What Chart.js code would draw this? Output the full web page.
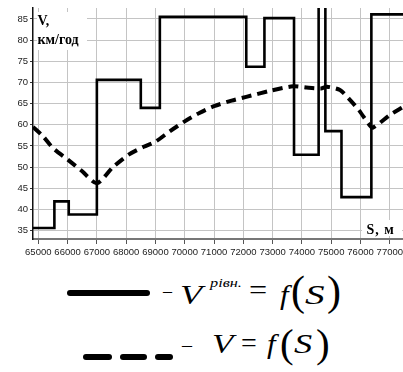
<!DOCTYPE html>
<html>
<head>
<meta charset="utf-8">
<script src="https://cdn.jsdelivr.net/npm/chart.js@4"></script>
<style>
  html, body { margin: 0; padding: 0; background: #fff; }
  #wrap { position: relative; width: 403px; height: 372px; overflow: hidden; background: #fff; }
  #c { position: absolute; left: 0; top: 0; }
  .t { position: absolute; font-family: 'Liberation Serif'; line-height: 1; white-space: nowrap; color: #000; transform-origin: 0 0; }
  .i { font-style: italic; }
  .bar { position: absolute; background: #000; border-radius: 3px; }
</style>
</head>
<body>
<div id="wrap">
  <canvas id="c" width="403" height="262"></canvas>

  <!-- legend line 1 -->
  <div class="bar" style="left:67px; top:290px; width:83px; height:6px;"></div>
  <div class="t" style="left:163px; top:282px; font-size:18px;">–</div>
  <div class="t i" style="left:180px; top:281px; font-size:28px; transform:scaleX(1.3);">V</div>
  <div class="t i" style="left:210px; top:276px; font-size:13px; transform:scaleX(1.25);">рівн.</div>
  <div class="t" style="left:249px; top:276px; font-size:28px; transform:scaleX(1.15);">=</div>
  <div class="t i" style="left:280px; top:281px; font-size:28px; transform:scaleX(1.1);">f</div>
  <div class="t" style="left:291px; top:270px; font-size:42px;">(</div>
  <div class="t i" style="left:305px; top:281px; font-size:28px; transform:scaleX(1.4);">S</div>
  <div class="t" style="left:327px; top:270px; font-size:42px;">)</div>

  <!-- legend line 2 -->
  <div class="bar" style="left:83px; top:354px; width:29px; height:6px;"></div>
  <div class="bar" style="left:120px; top:354px; width:27px; height:6px;"></div>
  <div class="bar" style="left:155px; top:354px; width:18px; height:6px;"></div>
  <div class="t" style="left:182px; top:335px; font-size:20px;">–</div>
  <div class="t i" style="left:212px; top:330px; font-size:28px; transform:scaleX(1.25);">V</div>
  <div class="t" style="left:241px; top:329px; font-size:28px;">=</div>
  <div class="t i" style="left:267px; top:330px; font-size:28px; transform:scaleX(1.1);">f</div>
  <div class="t" style="left:280px; top:323px; font-size:41px;">(</div>
  <div class="t i" style="left:294px; top:330px; font-size:28px; transform:scaleX(1.3);">S</div>
  <div class="t" style="left:316px; top:323px; font-size:41px;">)</div>
</div>
<script>
// Step series: V рівн. = f(S)
const stepS = [64820, 65550, 66040, 67000, 68500, 69150, 72100, 72720, 73730, 74570, 74800, 75350, 76370, 77450];
const stepV = [35.6, 41.9, 38.8, 70.6, 64.0, 85.5, 73.7, 85.2, 52.9, 120, 58.5, 42.9, 86.1, 86.1];

// Curve series: V = f(S)
const curveS = [64820, 65160, 65500, 66000, 66500, 67000, 67550, 68100, 68600, 69000, 69500, 70000, 70500, 71000, 71600, 72100, 72900, 73700, 74150, 74650, 74850, 75300, 75600, 75950, 76300, 76420, 77000, 77450];
const curveV = [59.5, 57.3, 54.5, 51.8, 49.0, 46.2, 50.0, 53.0, 54.8, 56.0, 58.5, 60.8, 62.8, 64.4, 65.7, 66.6, 68.0, 69.1, 68.8, 68.6, 69.0, 68.2, 66.2, 63.4, 60.0, 59.3, 62.3, 64.2];

// Axis ticks
const xTicks = [65000, 66000, 67000, 68000, 69000, 70000, 71000, 72000, 73000, 74000, 75000, 76000, 77000];
const yTicks = [35, 40, 45, 50, 55, 60, 65, 70, 75, 80, 85];
const xMin = 64820, xMax = 77450;
const yMin = 33, yMax = 87.6;

const yTitle = ["V,", "км/год"];
const xTitle = "S, м";

const stepData = stepS.map((s, i) => ({ x: s, y: stepV[i] }));
const curveData = curveS.map((s, i) => ({ x: s, y: curveV[i] }));

const titlePlugin = {
  id: 'titles',
  beforeDatasetsDraw(chart) {
    const ctx = chart.ctx;
    const a = chart.chartArea;
    ctx.save();
    ctx.fillStyle = '#fff';
    ctx.fillRect(a.left + 4, a.top + 4, 50, 38);
    ctx.fillRect(a.right - 41, a.bottom - 19, 40, 16);
    ctx.fillStyle = '#000';
    ctx.font = "bold 14px 'Liberation Serif'";
    ctx.textBaseline = 'alphabetic';
    ctx.fillText(yTitle[0], a.left + 4.5, a.top + 17);
    ctx.fillText(yTitle[1], a.left + 4.5, a.top + 35.5);
    try { ctx.letterSpacing = '1px'; } catch (e) {}
    ctx.fillText(xTitle, a.right - 36.5, a.bottom - 5.5);
    ctx.restore();
  }
};

new Chart(document.getElementById('c'), {
  type: 'line',
  data: {
    datasets: [
      {
        data: stepData,
        stepped: 'before',
        borderColor: '#000',
        borderWidth: 2.6,
        pointRadius: 0,
        fill: false
      },
      {
        data: curveData,
        borderColor: '#000',
        borderWidth: 4,
        borderDash: [10, 6],
        tension: 0.25,
        pointRadius: 0,
        fill: false
      }
    ]
  },
  options: {
    responsive: false,
    animation: false,
    events: [],
    layout: { padding: { top: 8, right: 0, left: 0, bottom: 0 } },
    plugins: { legend: { display: false }, tooltip: { enabled: false } },
    scales: {
      x: {
        type: 'linear',
        min: xMin,
        max: xMax,
        afterBuildTicks(s) { s.ticks = xTicks.map(v => ({ value: v })); },
        afterFit(s) { s.height = 23; s.paddingLeft = 0; s.paddingRight = 0; },
        grid: { color: '#c4c4c4', lineWidth: 1, tickColor: '#555', tickLength: 5 },
        border: { color: '#777', width: 2 },
        ticks: {
          maxRotation: 0,
          minRotation: 0,
          autoSkip: false,
          padding: 3,
          color: '#222',
          font: { family: 'Liberation Sans', size: 9.5 },
          callback: v => String(v)
        }
      },
      y: {
        type: 'linear',
        min: yMin,
        max: yMax,
        afterBuildTicks(s) { s.ticks = yTicks.map(v => ({ value: v })); },
        afterFit(s) { s.width = 33; },
        grid: { color: '#c4c4c4', lineWidth: 1, tickColor: '#333', tickLength: 3 },
        border: { color: '#111', width: 1.5 },
        ticks: {
          autoSkip: false,
          padding: 2,
          color: '#222',
          font: { family: 'Liberation Sans', size: 9.5 },
          callback: v => String(v)
        }
      }
    }
  },
  plugins: [titlePlugin]
});
</script>
</body>
</html>
